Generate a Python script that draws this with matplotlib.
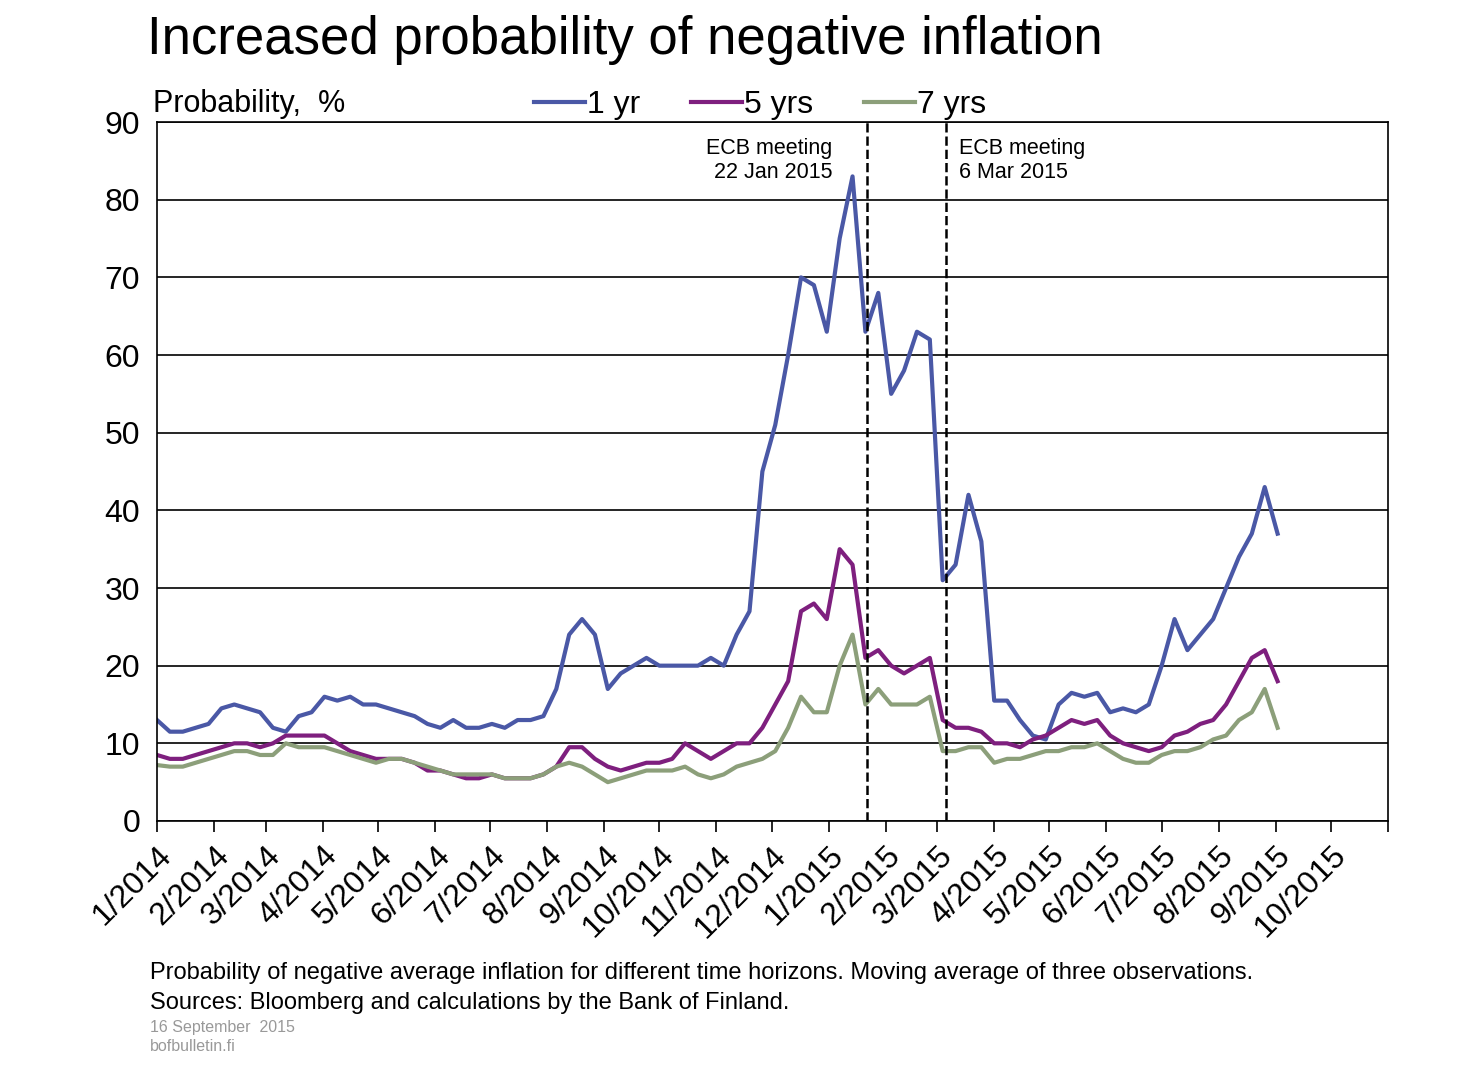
import matplotlib
matplotlib.use("Agg")
import matplotlib.pyplot as plt
import pandas as pd

plt.rcParams["font.family"] = "Liberation Sans"

start_date = "2014-01-01"
yr1 = [13,11.5,11.5,12,12.5,14.5,15,14.5,14,12,11.5,13.5,14,16,15.5,16,15,15,14.5,14,13.5,12.5,12,13,12,12,12.5,12,13,13,13.5,
       17,24,26,24,17,19,20,21,20,20,20,20,21,20,24,27,45,51,60,70,69,63,75,83,63,68,55,58,63,62,31,33,42,36,15.5,15.5,13,11,10.5,
       15,16.5,16,16.5,14,14.5,14,15,20,26,22,24,26,30,34,37,43,37]
yr5 = [8.5,8,8,8.5,9,9.5,10,10,9.5,10,11,11,11,11,10,9,8.5,8,8,8,7.5,6.5,6.5,6,5.5,5.5,6,5.5,5.5,5.5,6,7,9.5,9.5,8,7,6.5,7,
       7.5,7.5,8,10,9,8,9,10,10,12,15,18,27,28,26,35,33,21,22,20,19,20,21,13,12,12,11.5,10,10,9.5,10.5,11,12,13,12.5,13,11,
       10,9.5,9,9.5,11,11.5,12.5,13,15,18,21,22,18]
yr7 = [7.2,7,7,7.5,8,8.5,9,9,8.5,8.5,10,9.5,9.5,9.5,9,8.5,8,7.5,8,8,7.5,7,6.5,6,6,6,6,5.5,5.5,5.5,6,7,7.5,7,6,5,5.5,6,6.5,
       6.5,6.5,7,6,5.5,6,7,7.5,8,9,12,16,14,14,20,24,15,17,15,15,15,16,9,9,9.5,9.5,7.5,8,8,8.5,9,9,9.5,9.5,10,9,8,7.5,7.5,
       8.5,9,9,9.5,10.5,11,13,14,17,12]
series_names = ["1 yr", "5 yrs", "7 yrs"]
colors = ["#4a58a6", "#7e1f7e", "#8c9f7a"]
ecb_dates = ["2015-01-22", "2015-03-06"]
ecb_labels = ["ECB meeting\n22 Jan 2015", "ECB meeting\n6 Mar 2015"]

fig = plt.figure(figsize=(14.84, 10.77), dpi=100)
ax = fig.add_axes([0.1058, 0.2377, 0.8295, 0.649])
for vals, name, c in zip([yr1, yr5, yr7], series_names, colors):
    dates = pd.date_range(start_date, periods=len(vals), freq="7D")
    ax.plot(dates, vals, color=c, lw=3, label=name)

ax.set_ylim(0, 90)
ax.set_yticks(range(0, 91, 10))
ax.yaxis.grid(True, color="black", lw=1.2)
ax.set_axisbelow(True)
ax.set_xlim(pd.Timestamp("2014-01-01"), pd.Timestamp("2015-11-01"))
ticks = pd.date_range("2014-01-01", "2015-11-01", freq="MS")
ax.set_xticks(ticks)
ax.set_xticklabels([f"{d.month}/{d.year}" if d < pd.Timestamp("2015-11-01") else "" for d in ticks],
                   rotation=45, ha="right", rotation_mode="anchor")
ax.tick_params(axis="x", direction="out", length=8, labelsize=23, width=1.2, pad=6)
ax.tick_params(axis="y", length=0, labelsize=23, pad=12)
for s in ax.spines.values():
    s.set_linewidth(1.2)

for d in ecb_dates:
    ax.axvline(pd.Timestamp(d), color="black", ls="--", lw=1.8)
ax.text(pd.Timestamp(ecb_dates[0]) - pd.Timedelta(days=19), 85, ecb_labels[0], ha="right", va="center", fontsize=15.5)
ax.text(pd.Timestamp(ecb_dates[1]) + pd.Timedelta(days=7), 85, ecb_labels[1], ha="left", va="center", fontsize=15.5)

ax.legend(loc="lower center", bbox_to_anchor=(0.49, 0.985), ncol=3, frameon=False, fontsize=23,
          handlelength=1.6, handletextpad=0.05, columnspacing=1.6, borderaxespad=0)
fig.text(0.1031, 0.903, "Probability,  %", fontsize=22, va="center")
fig.text(0.099, 0.963, "Increased probability of negative inflation", fontsize=38, va="center")
fig.text(0.101, 0.097, "Probability of negative average inflation for different time horizons. Moving average of three observations.", fontsize=17, va="center")
fig.text(0.101, 0.069, "Sources: Bloomberg and calculations by the Bank of Finland.", fontsize=17, va="center")
fig.text(0.101, 0.046, "16 September  2015", fontsize=11.5, color="#999999", va="center")
fig.text(0.101, 0.028, "bofbulletin.fi", fontsize=11.5, color="#999999", va="center")
fig.savefig("out.png", dpi=100)
